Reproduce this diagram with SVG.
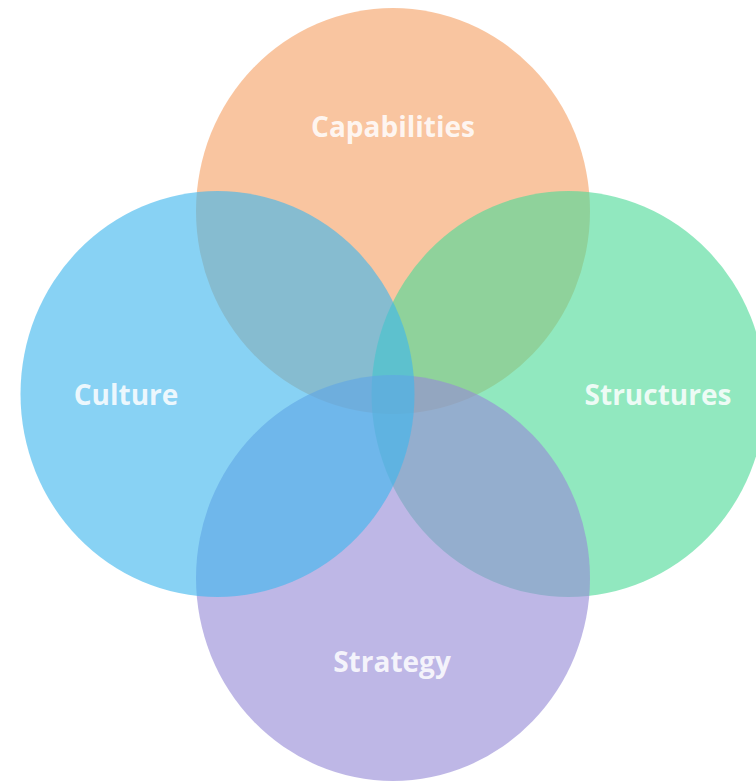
<svg xmlns="http://www.w3.org/2000/svg" width="756" height="783" viewBox="0 0 756 783">
  <style>
    .c { fill-opacity: 0.62; }
    .lbl { font-family: "Open Sans", "Liberation Sans", sans-serif; font-weight: 700; font-size: 28px; fill: #ffffff; fill-opacity: 0.85; text-anchor: middle; }
  </style>
  <rect width="756" height="783" fill="#ffffff"/>
  <g id="capabilities">
    <ellipse class="c" cx="393" cy="211" rx="197" ry="203" fill="#F6A266"/>
  </g>
  <g id="structures">
    <ellipse class="c" cx="568.5" cy="394" rx="197" ry="203" fill="#4DDA98"/>
  </g>
  <g id="strategy">
    <ellipse class="c" cx="393" cy="578" rx="197" ry="203" fill="#968BD6"/>
  </g>
  <g id="culture">
    <ellipse class="c" cx="217.5" cy="394" rx="197" ry="203" fill="#3FB6EE"/>
  </g>
  <g id="connectors"></g>
  <g id="labels">
    <text class="lbl" x="393" y="137">Capabilities</text>
    <text class="lbl" x="126" y="405">Culture</text>
    <text class="lbl" x="658" y="405">Structures</text>
    <text class="lbl" x="392" y="672">Strategy</text>
  </g>
</svg>
